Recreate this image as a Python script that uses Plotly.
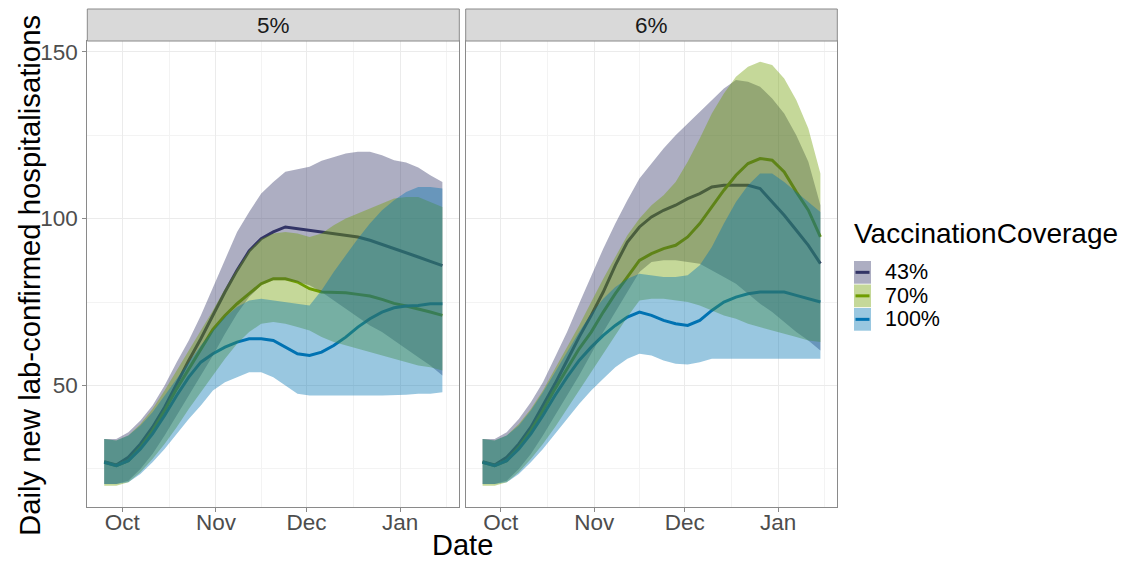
import plotly.graph_objects as go
import pandas as pd

W, H = 1136, 562

# ---------------- data ----------------
dates = ["2021-09-25", "2021-09-29", "2021-10-03", "2021-10-07", "2021-10-11", "2021-10-15",
         "2021-10-19", "2021-10-23", "2021-10-27", "2021-10-31", "2021-11-04", "2021-11-08",
         "2021-11-12", "2021-11-16", "2021-11-20", "2021-11-24", "2021-11-28", "2021-12-02",
         "2021-12-06", "2021-12-10", "2021-12-14", "2021-12-18", "2021-12-22", "2021-12-26",
         "2021-12-30", "2022-01-03", "2022-01-07", "2022-01-11", "2022-01-15"]

panels = ["5%", "6%"]
coverage = ["43%", "70%", "100%"]

# 5% panel
mid_43_5 = [27.2, 26.2, 28.5, 32.5, 37.5, 43.5, 50.5, 57.5, 64, 71, 78, 84.5, 90.3, 94, 96,
            97.5, 97, 96.5, 96, 95.5, 95, 94.5, 93.5, 92.3, 91, 89.8, 88.5, 87.2, 85.9]
hi_43_5 = [34, 34, 36, 39.5, 44, 50, 57, 63.5, 71, 79.5, 88, 96, 102, 107.5, 111,
           114, 114.8, 115.5, 117.3, 118.5, 119.5, 120, 120, 119, 117.5, 116.8, 115.3, 113, 111]
lo_43_5 = [20.5, 20.5, 21.5, 25, 29.5, 35, 41, 47, 53, 59, 65.5, 71.5, 76.5, 80, 81.5,
           81.5, 81, 80, 78, 75.5, 73, 70.5, 68, 66, 63.5, 61, 58.5, 56, 53]

mid_70_5 = [27, 26, 27.5, 31.5, 36.5, 42.5, 49, 55, 61, 66.8, 71, 74.5, 77.5, 80.5, 82,
            82, 81, 79, 78, 78, 77.8, 77.3, 76.8, 75.8, 74.6, 73.8, 73, 72, 71]
hi_70_5 = [34, 33.5, 35, 38.5, 43, 48.5, 54.5, 60.5, 66.5, 72.5, 79, 85, 90.5, 94, 95.5,
           96, 95.5, 94.5, 95.5, 98, 100, 101.5, 103, 104.5, 106, 106.5, 106.5, 105, 103.5]
lo_70_5 = [20, 20, 21, 24, 28, 32.5, 37.5, 43, 48, 53, 58, 62.5, 66, 68.5, 69,
           68.5, 67.5, 66.5, 64.5, 63, 62, 61, 60, 59, 58, 57, 56, 55.5, 54.5]

mid_100_5 = [27, 26, 27.5, 31, 35.5, 41, 47, 52.5, 57, 59.5, 61.5, 63, 64, 64, 63.5,
             61.5, 59.5, 59, 60, 62, 64.5, 67.5, 70, 72, 73.3, 73.8, 74, 74.5, 74.5]
hi_100_5 = [34, 33.5, 35, 38, 42, 47, 52, 57, 62, 66.5, 70.5, 73.5, 75.5, 76, 75.5,
            75, 74.5, 74, 78.5, 84, 89, 94, 98.5, 102.5, 105.5, 108, 109.5, 109.5, 109]
lo_100_5 = [20.5, 20.5, 21, 23.5, 27, 31, 35.5, 40, 44, 48.5, 51, 52.5, 54, 54, 52.5,
            50, 47.5, 47, 47, 47, 47, 47, 47, 47, 47, 47.2, 47.5, 47.5, 48]

# 6% panel
mid_43_6 = [27.2, 26.2, 28.5, 32.5, 37.5, 44, 50.5, 57.5, 64.5, 71, 78, 86, 93, 97.5, 100.5,
            102.5, 104, 106, 107.5, 109.5, 110, 110, 110, 109, 105, 101, 96.5, 92, 86.5]
hi_43_6 = [34, 34, 36, 40, 45, 51, 58.5, 66, 74.5, 83, 91, 98.5, 105.5, 112, 116.5,
           121, 125, 128.5, 132, 135.5, 139, 141.5, 141, 139.5, 136, 131.5, 125, 117, 104]
lo_43_6 = [20.5, 20.5, 21.5, 25, 29.5, 35, 41, 47, 53, 59.5, 66, 72, 78, 84, 87,
           87.5, 87.5, 87, 86.5, 84.5, 82.5, 80.5, 77.5, 74.5, 72, 69, 66, 63.5, 60.5]

mid_70_6 = [27, 26, 27.5, 31.5, 36.5, 42.5, 49, 55, 61, 66, 72, 77.5, 82.5, 87.5, 89.5,
            91, 92, 94.5, 98.5, 103.5, 108.5, 113, 116.5, 118, 117.5, 114, 108, 102.5, 94.5]
hi_70_6 = [34, 33.5, 35, 38.5, 43, 48.5, 55, 61.5, 68, 75, 82, 88.5, 95, 100, 104,
           107, 111, 117, 124, 131.5, 137.5, 142.5, 145.5, 147, 146, 142, 135.5, 127, 113.5]
lo_70_6 = [20, 20, 21, 24, 28, 32.5, 37.5, 43, 48.5, 54, 59.5, 65, 70.5, 75.5, 76,
           76, 75.5, 75, 74, 72.5, 71, 70, 68.5, 67.5, 66.5, 65.5, 64.5, 63.5, 63]

mid_100_6 = [27, 26, 27.5, 31, 35.5, 41, 47, 52.5, 57.5, 61.5, 65, 68, 70.5, 72, 71,
             69.5, 68.5, 68, 69.5, 72.5, 75, 76.5, 77.5, 78, 78, 78, 77, 76, 75]
hi_100_6 = [34, 33.5, 35, 38, 42.5, 48, 54, 60, 66, 71.5, 76, 79.5, 82, 83.5, 83,
            82.5, 82.5, 83, 86, 91.5, 98.5, 105, 110, 113.5, 113.5, 111, 108, 105, 102]
lo_100_6 = [20.5, 20.5, 21, 23.5, 27, 31, 35.5, 40, 44.5, 48.5, 52, 55.5, 58, 59.5, 59,
            57.5, 56.5, 56.3, 57, 58, 58, 58, 58, 58, 58, 58, 58, 58, 58]

month_ticks = ["2021-10-01", "2021-11-01", "2021-12-01", "2022-01-01"]
month_labels = ["Oct", "Nov", "Dec", "Jan"]
y_ticks = [50, 100, 150]
y_minor = [25, 75, 125]

series = {
    ("5%", "43%"): (mid_43_5, lo_43_5, hi_43_5),
    ("5%", "70%"): (mid_70_5, lo_70_5, hi_70_5),
    ("5%", "100%"): (mid_100_5, lo_100_5, hi_100_5),
    ("6%", "43%"): (mid_43_6, lo_43_6, hi_43_6),
    ("6%", "70%"): (mid_70_6, lo_70_6, hi_70_6),
    ("6%", "100%"): (mid_100_6, lo_100_6, hi_100_6),
}

colors = {"43%": (50, 52, 102), "70%": (111, 157, 0), "100%": (0, 114, 178)}
ALPHA = 0.4


def rgb(c):
    return "rgb(%d,%d,%d)" % c


def rgba(c, a):
    return "rgba(%d,%d,%d,%.2f)" % (c[0], c[1], c[2], a)


def blend(c, a):
    return "rgb(%d,%d,%d)" % tuple(round(a * v + (1 - a) * 255) for v in c)


FONT = "Liberation Sans, Arial, Helvetica, sans-serif"

# ---------------- figure ----------------
fig = go.Figure()

axis_ids = {"5%": ("x", "y"), "6%": ("x2", "y2")}
for p in panels:
    xa, ya = axis_ids[p]
    # lines first (ribbons drawn over them)
    for cov in coverage:
        mid, lo, hi = series[(p, cov)]
        fig.add_trace(go.Scatter(x=dates, y=mid, mode="lines", xaxis=xa, yaxis=ya,
                                 line=dict(color=rgb(colors[cov]), width=3),
                                 showlegend=False, hoverinfo="skip"))
    for cov in coverage:
        mid, lo, hi = series[(p, cov)]
        fig.add_trace(go.Scatter(x=dates + dates[::-1], y=hi + lo[::-1], mode="lines",
                                 fill="toself", fillcolor=rgba(colors[cov], ALPHA),
                                 line=dict(width=0), xaxis=xa, yaxis=ya,
                                 showlegend=False, hoverinfo="skip"))

# axes
tick_dt = pd.to_datetime(month_ticks)
minor_dt = [tick_dt[i] + (tick_dt[i + 1] - tick_dt[i]) / 2 for i in range(len(tick_dt) - 1)]
minor_dt.append(tick_dt[-1] + (tick_dt[-1] - tick_dt[-2]) / 2)
minor_x = [d.strftime("%Y-%m-%d %H:%M") for d in minor_dt]

xr = ["2021-09-19 09:36", "2022-01-20 14:24"]
yr = [13.7, 153.2]

px = lambda v: v / W
py = lambda v: 1 - v / H

LINEC = "#8a8a8a"
x_doms = {"5%": [px(87.3), px(459.3)], "6%": [px(465.7), px(837.3)]}
y_dom = [py(506.7), py(41)]

common_x = dict(range=xr, type="date", tickmode="array", tickvals=month_ticks, ticktext=month_labels,
                ticks="outside", ticklen=4, tickwidth=1, tickcolor=LINEC, ticklabelstandoff=-9,
                tickfont=dict(family=FONT, size=22.5, color="#4d4d4d"),
                showgrid=True, gridcolor="#ebebeb", gridwidth=1,
                minor=dict(tickvals=minor_x, showgrid=True, gridcolor="#f3f3f3", gridwidth=1, ticks=""),
                showline=True, mirror=True, linecolor=LINEC, linewidth=1, zeroline=False)
common_y = dict(range=yr, tickmode="array", tickvals=y_ticks, ticktext=[str(v) for v in y_ticks],
                ticks="outside", ticklen=4, tickwidth=1, tickcolor=LINEC,
                tickfont=dict(family=FONT, size=22.5, color="#4d4d4d"),
                showgrid=True, gridcolor="#ebebeb", gridwidth=1,
                minor=dict(tickvals=y_minor, showgrid=True, gridcolor="#f3f3f3", gridwidth=1, ticks=""),
                showline=True, mirror=True, linecolor=LINEC, linewidth=1, zeroline=False)

fig.update_layout(
    xaxis=dict(domain=x_doms["5%"], anchor="y", **common_x),
    xaxis2=dict(domain=x_doms["6%"], anchor="y2", **common_x),
    yaxis=dict(domain=y_dom, anchor="x", **common_y),
    yaxis2=dict(domain=y_dom, anchor="x2", showticklabels=False, **common_y),
)
fig.layout.yaxis2.ticks = ""

shapes = []
annotations = []
# strips
for p in panels:
    x0, x1 = x_doms[p]
    shapes.append(dict(type="rect", xref="paper", yref="paper", x0=x0, x1=x1, y0=py(41), y1=py(9),
                       fillcolor="#d9d9d9", line=dict(color=LINEC, width=1), layer="above"))
    annotations.append(dict(text=p, xref="paper", yref="paper", x=(x0 + x1) / 2, y=py(25),
                            xanchor="center", yanchor="middle", showarrow=False,
                            font=dict(family=FONT, size=22.5, color="#1a1a1a")))

# axis titles
annotations.append(dict(text="Date", xref="paper", yref="paper", x=px(462), y=0,
                        xanchor="center", yanchor="bottom", showarrow=False, borderpad=0,
                        font=dict(family=FONT, size=29, color="black")))
annotations.append(dict(text="Daily new lab-confirmed hospitalisations", xref="paper", yref="paper",
                        x=px(29), y=py(276), textangle=-90, xanchor="center", yanchor="middle",
                        showarrow=False, font=dict(family=FONT, size=29.3, color="black")))

# legend (manual, ggplot-style keys)
annotations.append(dict(text="VaccinationCoverage", xref="paper", yref="paper", x=px(852), y=py(233),
                        xanchor="left", yanchor="middle", showarrow=False,
                        font=dict(family=FONT, size=28, color="black")))
key_top = 261
key_h = 23.5
for i, cov in enumerate(coverage):
    y0 = key_top + i * key_h
    y1 = y0 + key_h - 0.8
    shapes.append(dict(type="rect", xref="paper", yref="paper", x0=px(854), x1=px(871),
                       y0=py(y1), y1=py(y0), fillcolor=blend(colors[cov], ALPHA),
                       line=dict(width=0), layer="above"))
    yc = (y0 + y1) / 2
    shapes.append(dict(type="line", xref="paper", yref="paper", x0=px(855.5), x1=px(869.5),
                       y0=py(yc), y1=py(yc), line=dict(color=rgb(colors[cov]), width=3), layer="above"))
    annotations.append(dict(text=cov, xref="paper", yref="paper", x=px(884), y=py(yc),
                            xanchor="left", yanchor="middle", showarrow=False, borderpad=0,
                            font=dict(family=FONT, size=21.5, color="black")))

fig.update_layout(shapes=shapes, annotations=annotations,
                  width=W, height=H, margin=dict(l=0, r=0, t=0, b=0),
                  plot_bgcolor="white", paper_bgcolor="white", showlegend=False,
                  font=dict(family=FONT))

fig.write_html("out.html")
